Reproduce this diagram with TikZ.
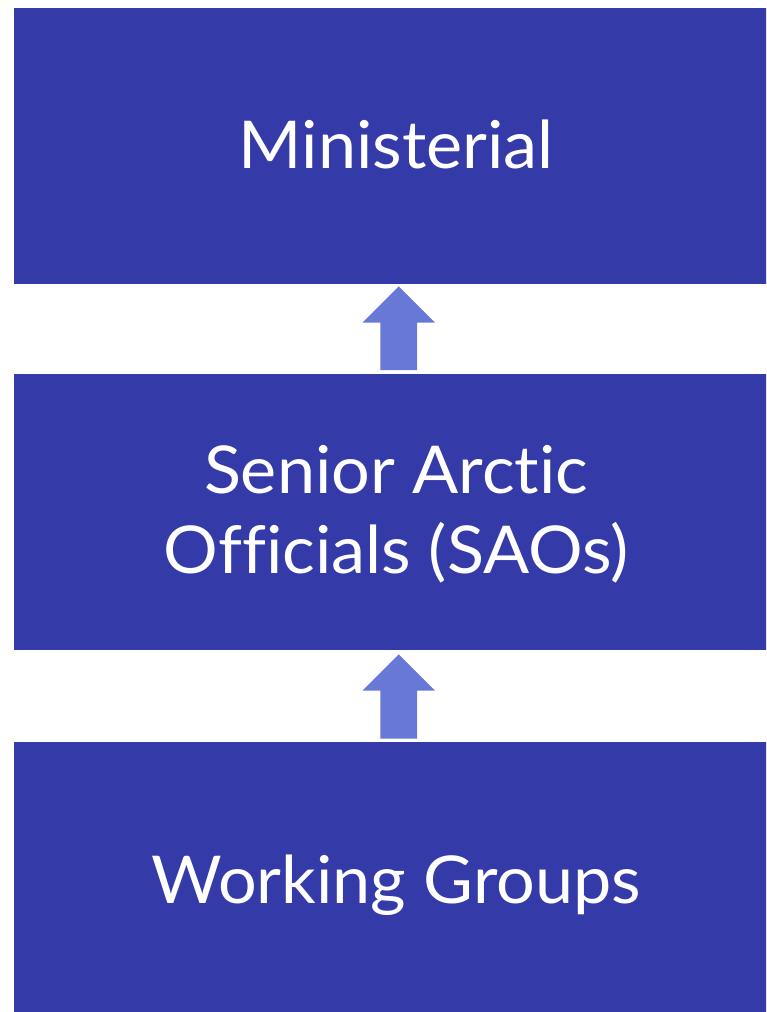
\documentclass[tikz,border=0pt]{standalone}
\usepackage{fontspec}
\setmainfont{Lato}[Ligatures={NoCommon}, FakeStretch=1.035]
\usetikzlibrary{calc}
\definecolor{boxblue}{RGB}{52,58,168}
\definecolor{arrowblue}{RGB}{104,120,214}
\newcommand\blockup[4]{% #1 lower node, #2 upper node, #3 shaft-bottom gap, #4 tip gap
  \fill[arr] ($(#1.north)+(-15.8,-#3)$) -- ($(#1.north)+(20.8,-#3)$)
    -- ($(#1.north)+(20.8,-51.3)$) -- ($(#1.north)+(38.8,-51.3)$)
    -- ($(#2.south)+(2.5,#4)$)
    -- ($(#1.north)+(-33.8,-51.3)$) -- ($(#1.north)+(-15.8,-51.3)$) -- cycle;}
\begin{document}
\begin{tikzpicture}[x=1pt,y=-1pt,
  box/.style={fill=boxblue, draw=none, minimum width=764pt, minimum height=276pt, inner sep=0pt, anchor=north west},
  lbl/.style={text=white, font=\fontsize{66}{80}\selectfont, anchor=base, inner sep=0pt},
  arr/.style={fill=arrowblue, draw=none}]
\useasboundingbox (0,0) rectangle (766,1012);
\clip (0,0) rectangle (766,1012);
\node[box] (top) at (14,8) {};
\node[box] (mid) at (14,374) {};
\node[box] (bot) at (14,742) {};
\node[lbl] (tl) at ($(top.center)+(0,22)$) {Ministerial};
\node[lbl] (ml1) at ($(mid.center)+(0,-19)$) {Senior Arctic};
\node[lbl] (ml2) at ($(mid.center)+(0,61)$) {Officials (SAOs)};
\node[lbl] (bl) at ($(bot.center)+(0,23)$) {Working Groups};
\blockup{mid}{top}{4}{2}
\blockup{bot}{mid}{3.3}{4}
\end{tikzpicture}
\end{document}
